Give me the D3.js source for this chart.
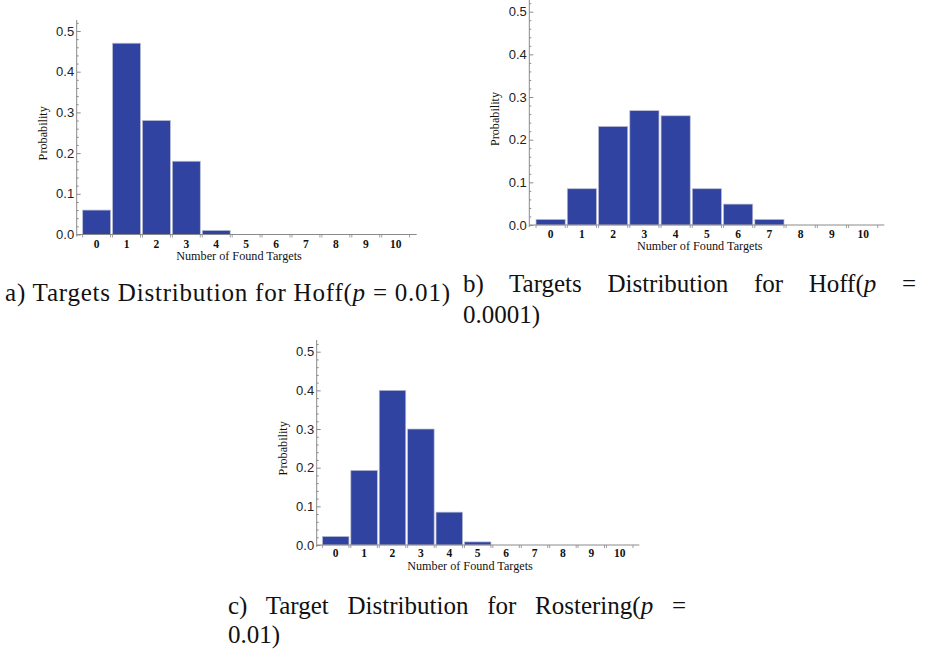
<!DOCTYPE html>
<html>
<head>
<meta charset="utf-8">
<script src="https://cdn.jsdelivr.net/npm/d3@7"></script>
<style>
  html, body { margin: 0; padding: 0; background: #fff; }
  svg { display: block; }
</style>
</head>
<body>
<svg id="chart" width="926" height="652"></svg>
<script>
// ---- data ----
const categories = ["0", "1", "2", "3", "4", "5", "6", "7", "8", "9", "10"];
const hoffP001 = [0.06, 0.47, 0.28, 0.18, 0.01, 0, 0, 0, 0, 0, 0];
const hoffP00001 = [0.013, 0.085, 0.231, 0.268, 0.256, 0.085, 0.049, 0.013, 0, 0, 0];
const rosteringP001 = [0.022, 0.193, 0.40, 0.30, 0.085, 0.008, 0, 0, 0, 0, 0];
const yTickValues = [0, 0.1, 0.2, 0.3, 0.4, 0.5];
const xAxisTitle = "Number of Found Targets";
const yAxisTitle = "Probability";

const svg = d3.select("#chart");
const BAR = "#3043a0";
const AXIS = "#8a8a8a";

// panel layouts (pixel geometry only)
const panels = [
  { values: hoffP001, axisX: 76.7, y0: 234.5, yHalf: 31, top: 20,
    band: [81.7, 410.6], axisEnd: 416.7, tickBase: 247.5, titleBase: 260, titleX: 239,
    yTitleX: 47.3, yTitleY: 133.3 },
  { values: hoffP00001, axisX: 529.3, y0: 225, yHalf: 11.7, top: 0,
    band: [535, 878.8], axisEnd: 884.3, tickBase: 237.5, titleBase: 250, titleX: 699.7,
    yTitleX: 499.3, yTitleY: 119 },
  { values: rosteringP001, axisX: 316.7, y0: 545, yHalf: 351.7, top: 340,
    band: [321.5, 633.9], axisEnd: 639.3, tickBase: 557, titleBase: 569.5, titleX: 470,
    yTitleX: 287.3, yTitleY: 448.3 }
];

panels.forEach(p => {
  const g = svg.append("g");
  const y = d3.scaleLinear().domain([0, 0.5]).range([p.y0, p.yHalf]);
  const x = d3.scaleBand().domain(categories).range(p.band).paddingInner(0.067).paddingOuter(0.033);

  // bars
  g.selectAll("rect.bar")
    .data(categories.map((c, i) => ({ c, v: p.values[i] })))
    .join("rect")
    .attr("class", "bar")
    .attr("x", d => x(d.c))
    .attr("width", x.bandwidth())
    .attr("y", d => y(d.v))
    .attr("height", d => y(0) - y(d.v))
    .attr("fill", BAR)
    .attr("stroke", d => d.v > 0 ? "#b9bdd2" : "none")
    .attr("stroke-width", 0.7);

  // y axis (ticks inward)
  const yTop = y.invert(p.top);
  const yAxis = d3.axisRight(y).tickValues(yTickValues).tickSize(4).tickFormat("");
  const yg = g.append("g").attr("transform", `translate(${p.axisX},0)`).call(yAxis);
  yg.select(".domain").remove();
  yg.selectAll("line").attr("stroke", AXIS);
  const minor = d3.range(0, yTop + 1e-9, 0.02).filter(v => Math.abs(v * 10 - Math.round(v * 10)) > 1e-6);
  const ym = g.append("g").attr("transform", `translate(${p.axisX},0)`)
    .call(d3.axisRight(y).tickValues(minor).tickSize(2).tickFormat(""));
  ym.select(".domain").remove();
  ym.selectAll("line").attr("stroke", AXIS);
  g.append("line").attr("x1", p.axisX).attr("x2", p.axisX)
    .attr("y1", p.top).attr("y2", y(0) + 2).attr("stroke", AXIS).attr("stroke-width", 1);

  // y tick labels
  g.selectAll("text.ylab").data(yTickValues).join("text")
    .attr("class", "ylab")
    .attr("x", p.axisX - 2.5)
    .attr("y", d => y(d))
    .attr("dy", "0.36em")
    .attr("text-anchor", "end")
    .attr("font-family", "Liberation Sans, Arial, sans-serif")
    .attr("font-size", 13)
    .attr("fill", "#222")
    .text(d => d3.format(".1f")(d));

  // x axis line
  g.append("line").attr("x1", p.axisX).attr("x2", p.axisEnd)
    .attr("y1", y(0)).attr("y2", y(0)).attr("stroke", AXIS).attr("stroke-width", 1);
  // x ticks at every bar edge
  const edges = [];
  categories.forEach(c => { edges.push(x(c)); edges.push(x(c) + x.bandwidth()); });
  g.selectAll("line.xt").data(edges).join("line")
    .attr("class", "xt")
    .attr("x1", d => d).attr("x2", d => d)
    .attr("y1", y(0)).attr("y2", y(0) + 3)
    .attr("stroke", AXIS).attr("stroke-width", 0.8);

  // x tick labels
  g.selectAll("text.xlab").data(categories).join("text")
    .attr("class", "xlab")
    .attr("x", d => x(d) + x.bandwidth() / 2)
    .attr("y", p.tickBase)
    .attr("text-anchor", "middle")
    .attr("font-family", "Liberation Serif, Times New Roman, serif")
    .attr("font-weight", "bold")
    .attr("font-size", 11.5)
    .attr("fill", "#111")
    .text(d => d);

  // axis titles
  g.append("text")
    .attr("x", p.titleX)
    .attr("y", p.titleBase)
    .attr("text-anchor", "middle")
    .attr("font-family", "Liberation Serif, Times New Roman, serif")
    .attr("font-size", 12.2)
    .attr("fill", "#111")
    .text(xAxisTitle);
  g.append("text")
    .attr("transform", `translate(${p.yTitleX},${p.yTitleY}) rotate(-90)`)
    .attr("text-anchor", "middle")
    .attr("font-family", "Liberation Serif, Times New Roman, serif")
    .attr("font-size", 12.2)
    .attr("fill", "#111")
    .text(yAxisTitle);
});

// ---- captions ----
const captionA = [["a) Targets Distribution for Hoff(", false], ["p", true], [" = 0.01)", false]];
const captionB1 = [["b) Targets Distribution for Hoff(", false], ["p", true], [" =", false]];
const captionB2 = [["0.0001)", false]];
const captionC1 = [["c) Target Distribution for Rostering(", false], ["p", true], [" =", false]];
const captionC2 = [["0.01)", false]];

function caption(parts, x0, base, targetW, justify) {
  const t = svg.append("text")
    .attr("x", x0).attr("y", base)
    .attr("font-family", "Liberation Serif, Times New Roman, serif")
    .attr("font-size", 25)
    .attr("fill", "#111");
  parts.forEach(([s, it]) => {
    t.append("tspan").attr("font-style", it ? "italic" : "normal").text(s);
  });
  if (targetW) {
    const w = t.node().getComputedTextLength();
    if (justify) {
      const n = parts.map(d => d[0]).join("").split(" ").length - 1;
      t.attr("word-spacing", (targetW - w) / n);
    } else {
      t.attr("textLength", targetW).attr("lengthAdjust", "spacing");
    }
  }
}
caption(captionA, 5, 301, 445, false);
caption(captionB1, 463, 292, 453, true);
caption(captionB2, 463, 323, null, false);
caption(captionC1, 228, 614, 458, true);
caption(captionC2, 228, 643, null, false);
</script>
</body>
</html>
